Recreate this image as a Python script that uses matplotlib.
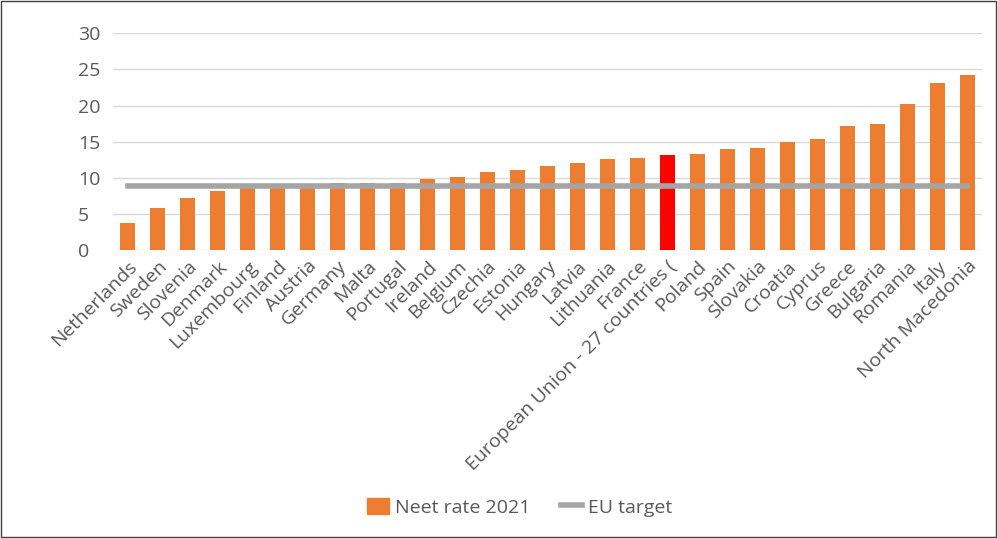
import matplotlib
matplotlib.use("Agg")
import matplotlib.pyplot as plt
from matplotlib.patches import Rectangle
from matplotlib.lines import Line2D

# ===== data =====
countries = ["Netherlands", "Sweden", "Slovenia", "Denmark", "Luxembourg", "Finland",
             "Austria", "Germany", "Malta", "Portugal", "Ireland", "Belgium", "Czechia",
             "Estonia", "Hungary", "Latvia", "Lithuania", "France",
             "European Union - 27 countries (", "Poland", "Spain", "Slovakia", "Croatia",
             "Cyprus", "Greece", "Bulgaria", "Romania", "Italy", "North Macedonia"]
neet_2021 = [3.8, 5.9, 7.2, 8.2, 8.8, 8.8, 8.8, 9.3, 9.3, 9.3, 9.8, 10.1, 10.8,
             11.1, 11.7, 12.0, 12.6, 12.8, 13.1, 13.3, 14.0, 14.2, 14.9, 15.4,
             17.2, 17.5, 20.2, 23.1, 24.2]
eu_target = [8.9] * len(countries)
highlight = "European Union - 27 countries ("
yticks = [0, 5, 10, 15, 20, 25, 30]

ORANGE = "#ED7D31"
RED = "#FF0000"
GREY = "#A5A5A5"
TXT = "#595959"
FS = 14

plt.rcParams["font.family"] = ["Open Sans", "DejaVu Sans"]

fig = plt.figure(figsize=(9.98, 5.38), dpi=100)
ax = fig.add_axes([0.113, 0.535, 0.871, 0.403])

x = range(len(countries))
colors = [RED if c == highlight else ORANGE for c in countries]
ax.bar(x, neet_2021, width=0.5, color=colors, zorder=2)
ax.plot(x, eu_target, color=GREY, lw=4, zorder=3)

ax.set_xlim(-0.5, len(countries) - 0.5)
ax.set_ylim(0, 30)
ax.set_yticks(yticks)
ax.set_yticklabels([str(v) for v in yticks], fontsize=FS, color=TXT, ha="left")
ax.yaxis.grid(True, color="#D9D9D9", lw=1, zorder=0)
ax.tick_params(axis="both", length=0)
ax.tick_params(axis="y", pad=25)   # left-aligned labels start near x=78px
for s in ax.spines.values():
    s.set_visible(False)

ax.set_xticks(list(x))
ax.set_xticklabels(countries, rotation=45, ha="right", rotation_mode="anchor",
                   fontsize=FS, color=TXT)
ax.tick_params(axis="x", pad=5)

handles = [Rectangle((0, 0), 1, 1, color=ORANGE),
           Line2D([0], [0], color=GREY, lw=4)]
fig.legend(handles, ["Neet rate 2021", "EU target"], loc="center",
           bbox_to_anchor=(0.521, 0.057), ncol=2, frameon=False,
           fontsize=FS, labelcolor=TXT, handlelength=1.1, handleheight=0.9,
           columnspacing=1.6, handletextpad=0.3)

# outer frame of the image
fig.patches.append(Rectangle((0.001, 0.002), 0.997, 0.996, transform=fig.transFigure,
                             fill=False, edgecolor="#404040", lw=1))

fig.savefig("out.png", dpi=100)
